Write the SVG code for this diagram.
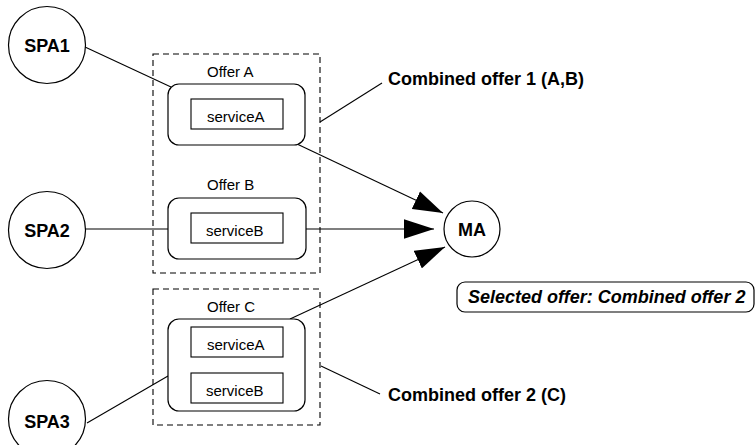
<svg xmlns="http://www.w3.org/2000/svg" width="756" height="445" viewBox="0 0 756 445">
  <style>
    .agent { fill: #fff; stroke: #000; stroke-width: 1.2; }
    .group { fill: none; stroke: #000; stroke-width: 1.1; stroke-dasharray: 6 4; }
    .offer { fill: #fff; stroke: #000; stroke-width: 1.2; }
    .svc { fill: #fff; stroke: #000; stroke-width: 1.1; }
    .edge { fill: none; stroke: #000; stroke-width: 1.1; }
    .big { font-family: "Liberation Sans", Arial, sans-serif; font-size: 18px; font-weight: bold; fill: #000; }
    .small { font-family: "Liberation Sans", Arial, sans-serif; font-size: 15px; fill: #000; }
  </style>
  <defs>
    <marker id="arrow" markerUnits="userSpaceOnUse" markerWidth="30" markerHeight="20" viewBox="0 0 28 18" refX="28" refY="9" orient="auto">
      <path d="M0,0 L28,9 L0,18 Z" fill="#000"/>
    </marker>
  </defs>
  <rect width="756" height="445" fill="#fff"/>

  <!-- dashed grouping boxes for the combined offers -->
  <g id="combined1">
    <rect class="group" x="153" y="54" width="167" height="219"/>
  </g>
  <g id="combined2">
    <rect class="group" x="153" y="289" width="167" height="136"/>
  </g>

  <!-- connectors -->
  <g id="connectors">
    <line class="edge" x1="85" y1="47" x2="171" y2="87"/>
    <line class="edge" x1="85" y1="229" x2="168" y2="229"/>
    <line class="edge" x1="87" y1="423" x2="168" y2="376"/>
    <line class="edge" x1="297" y1="144" x2="443" y2="213" marker-end="url(#arrow)"/>
    <line class="edge" x1="306" y1="229" x2="434" y2="229" marker-end="url(#arrow)"/>
    <line class="edge" x1="290" y1="319" x2="445" y2="247" marker-end="url(#arrow)"/>
    <line class="edge" x1="320" y1="122" x2="382" y2="83"/>
    <line class="edge" x1="321" y1="366" x2="380" y2="394"/>
  </g>

  <g id="SPA1">
    <circle class="agent" cx="47" cy="45" r="38.5"/>
    <text class="big" x="47" y="52" text-anchor="middle">SPA1</text>
  </g>
  <g id="SPA2">
    <circle class="agent" cx="47" cy="230" r="38.5"/>
    <text class="big" x="47" y="236.5" text-anchor="middle">SPA2</text>
  </g>
  <g id="SPA3">
    <circle class="agent" cx="47" cy="419" r="38.5"/>
    <text class="big" x="47" y="428" text-anchor="middle">SPA3</text>
  </g>
  <g id="MA">
    <circle class="agent" cx="472" cy="229" r="28"/>
    <text class="big" x="472" y="235.5" text-anchor="middle">MA</text>
  </g>

  <g id="offerA">
    <text class="small" x="207" y="77">Offer A</text>
    <rect class="offer" x="168" y="84" width="137" height="61" rx="11"/>
    <rect class="svc" x="191" y="99" width="92" height="30"/>
    <text class="small" x="207" y="122">serviceA</text>
  </g>
  <g id="offerB">
    <text class="small" x="207" y="190">Offer B</text>
    <rect class="offer" x="168" y="198" width="138" height="61" rx="11"/>
    <rect class="svc" x="191" y="213" width="92" height="30"/>
    <text class="small" x="206" y="236">serviceB</text>
  </g>
  <g id="offerC">
    <text class="small" x="207" y="312">Offer C</text>
    <rect class="offer" x="168" y="319" width="137" height="92" rx="11"/>
    <rect class="svc" x="191" y="327" width="92" height="30"/>
    <text class="small" x="207" y="350">serviceA</text>
    <rect class="svc" x="191" y="373" width="92" height="30"/>
    <text class="small" x="206" y="396">serviceB</text>
  </g>

  <g id="label1">
    <text class="big" x="388" y="84.5">Combined offer 1 (A,B)</text>
  </g>
  <g id="label2">
    <text class="big" x="388" y="401">Combined offer 2 (C)</text>
  </g>
  <g id="selected">
    <rect class="offer" x="457" y="282" width="297" height="30" rx="8"/>
    <text class="big" x="468" y="303" font-style="italic">Selected offer: Combined offer 2</text>
  </g>
</svg>
